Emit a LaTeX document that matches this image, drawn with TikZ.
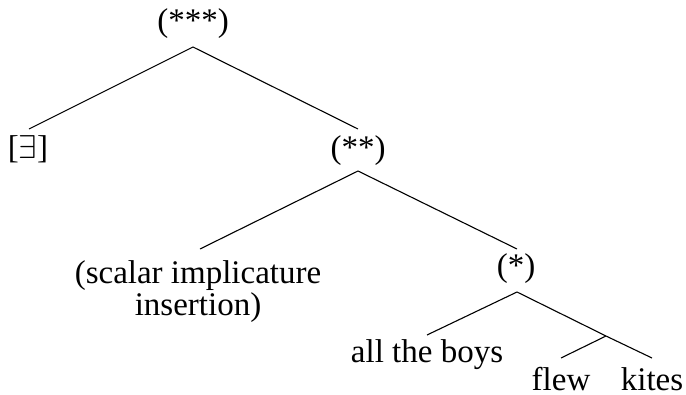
\RequirePackage{fix-cm}
\documentclass[tikz,border=0pt]{standalone}
\usepackage{fontspec}
\setmainfont{Liberation Serif}
\begin{document}
\begin{tikzpicture}[x=1pt,y=-1pt,
  lbl/.style={anchor=base,inner sep=0pt,font=\fontsize{33}{32}\selectfont},
  edge/.style={draw=black,line width=1.1pt}]
\useasboundingbox (0,0) rectangle (686,394);
% labels
\node[lbl] (top)   at (193,31)  {(***)};
\node[lbl] (ex)    at (28,158)  {[$\exists$]};
\node[lbl] (two)   at (358,158) {(**)};
\node[lbl] (sc)    at (198,283) {\setlength\tabcolsep{0pt}\begin{tabular}[t]{c}(scalar implicature\\insertion)\end{tabular}};
\node[lbl] (star)  at (516,276) {(*)};
\node[lbl] (boys)  at (427,362) {all the boys};
\node[lbl] (flew)  at (561,390) {flew};
\node[lbl] (kites) at (652,390) {kites};
% branch points
\coordinate (topb)   at (193,47);
\coordinate (ext)    at (29,129);
\coordinate (twot)   at (358,129);
\coordinate (twob)   at (358,171);
\coordinate (sct)    at (200,249);
\coordinate (start)  at (517,249);
\coordinate (starb)  at (517,292);
\coordinate (boyst)  at (427,335);
\coordinate (vp)     at (606,336);
\coordinate (flewt)  at (561,358);
\coordinate (kitest) at (652,358);
% edges
\draw[edge] (ext) -- (topb) -- (twot);
\draw[edge] (sct) -- (twob) -- (start);
\draw[edge] (boyst) -- (starb) -- (vp) -- (kitest);
\draw[edge] (vp) -- (flewt);
\end{tikzpicture}
\end{document}
